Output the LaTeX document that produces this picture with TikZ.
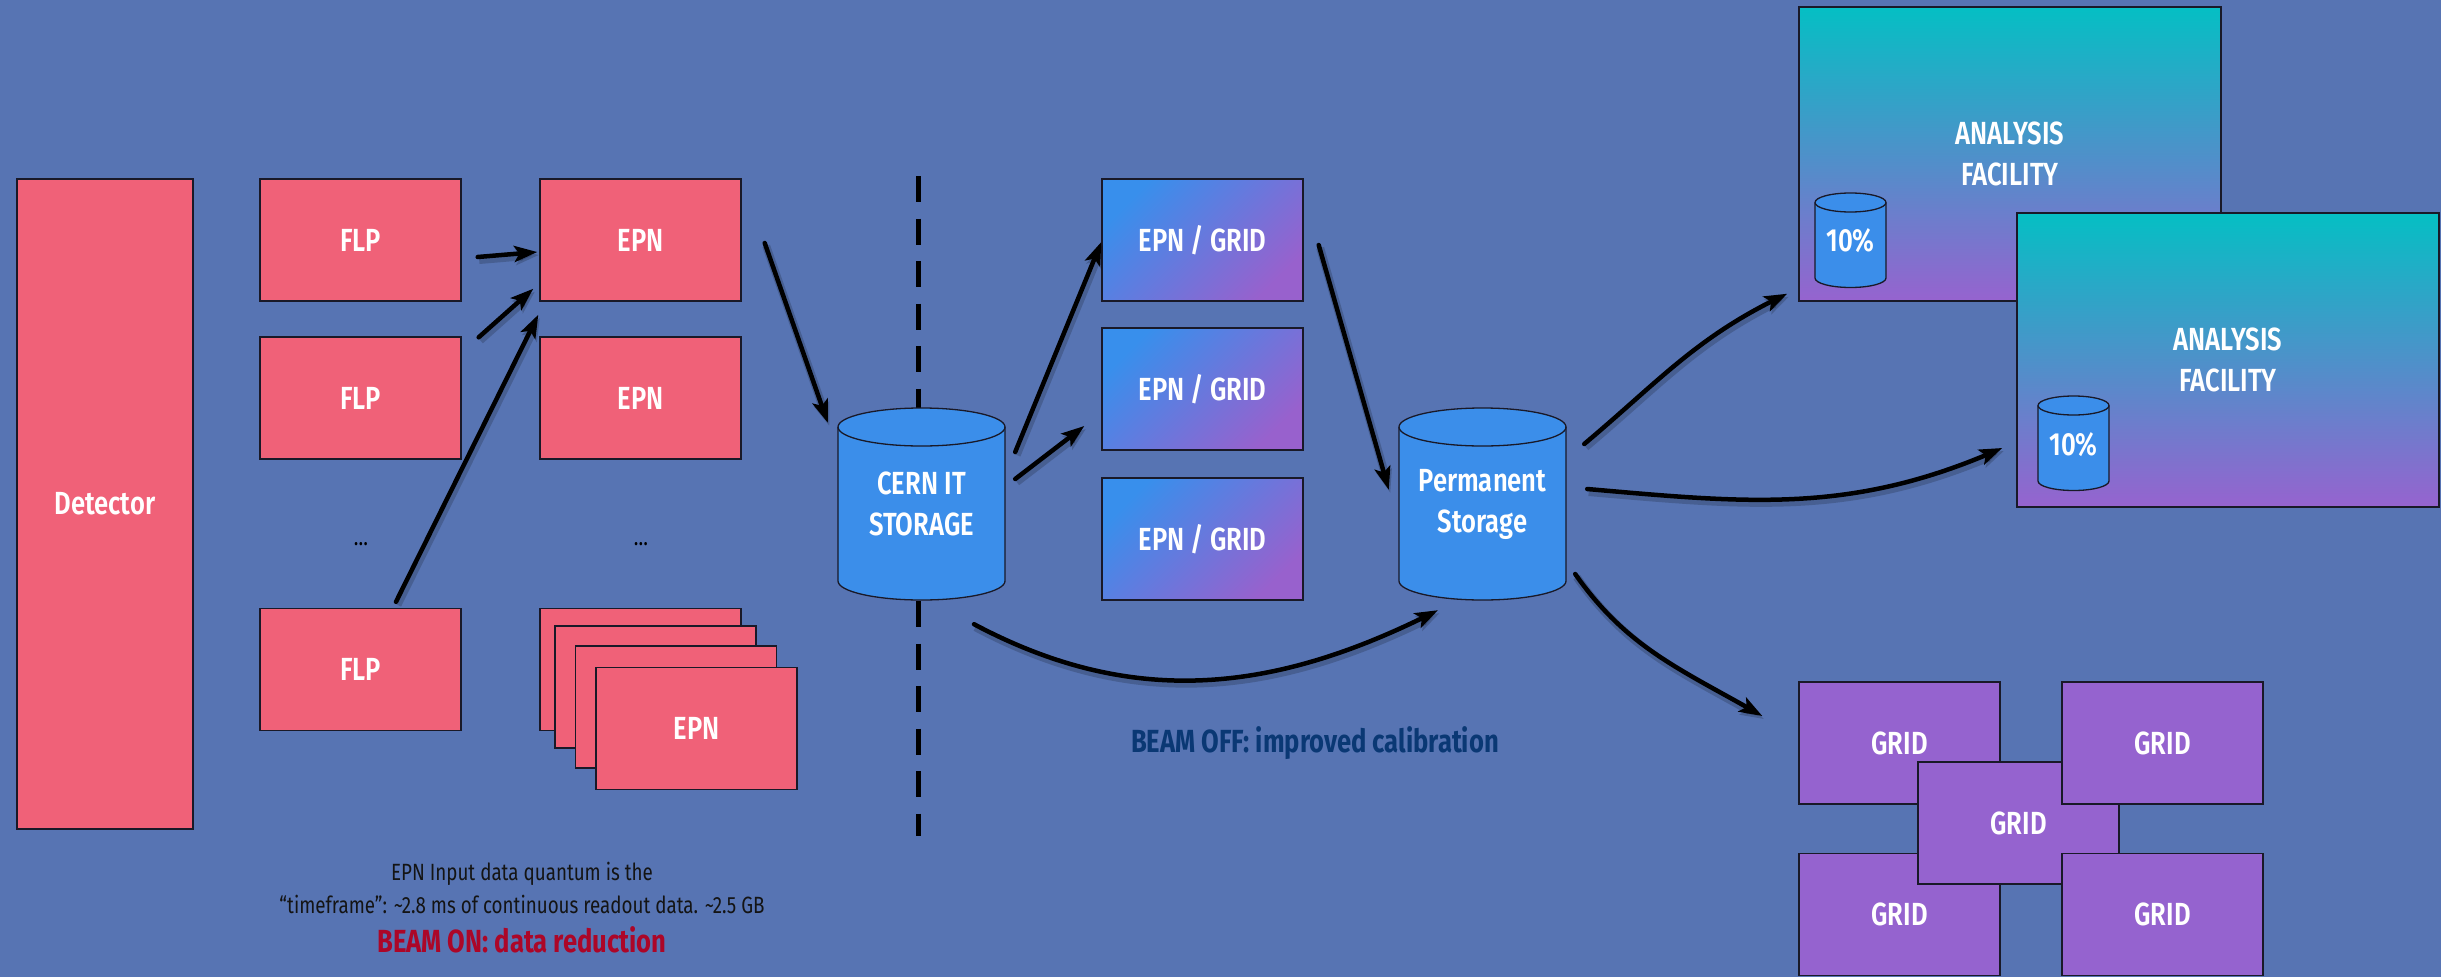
\documentclass[tikz,border=0pt]{standalone}
\usepackage{fontspec}
\setmainfont[FakeStretch=0.8]{Fira Sans}
\newfontfamily\heavyfont[FakeStretch=0.8]{Fira Sans}
\IfFontExistsTF{Fira Sans SemiBold}
  {\newfontfamily\lblfont[FakeStretch=0.8]{Fira Sans SemiBold}}
  {\newcommand\lblfont{\heavyfont\bfseries}}
\usetikzlibrary{arrows.meta,calc,bending}

\definecolor{bg}{RGB}{87,116,179}
\definecolor{pinkfill}{RGB}{240,97,120}
\definecolor{cylblue}{RGB}{59,142,234}
\definecolor{egblue}{RGB}{56,143,236}
\definecolor{egpurple}{RGB}{152,97,205}
\definecolor{afteal}{RGB}{5,191,196}
\definecolor{afpurple}{RGB}{150,99,207}
\definecolor{gridpurple}{RGB}{149,99,207}
\definecolor{beamon}{RGB}{172,6,40}
\definecolor{beamoff}{RGB}{10,56,116}
\definecolor{edge}{RGB}{25,25,40}

% storage drum: centre x, top-ellipse y, bottom-ellipse y, x radius, y radius
\newcommand\drumshape[5]{%
  \filldraw[draw=edge,line width=1.3pt,fill=cylblue]
    (#1-#4,#2) -- (#1-#4,#3)
    arc[start angle=180,end angle=360,x radius=#4pt,y radius=#5pt]
    -- (#1+#4,#2)
    arc[start angle=0,end angle=180,x radius=#4pt,y radius=#5pt] -- cycle;
  \draw[draw=edge,line width=1.3pt] (#1-#4,#2)
    arc[start angle=180,end angle=360,x radius=#4pt,y radius=#5pt];
}

\begin{document}
\begin{tikzpicture}[x=1pt,y=-1pt,
  lbl/.style={text=white,font=\lblfont\fontsize{32}{41}\selectfont,align=center},
  box/.style={lbl,draw=edge,line width=1.4pt,minimum width=201pt,minimum height=122pt,inner sep=0pt},
  redbox/.style={box,fill=pinkfill},
  egbox/.style={box,top color=egblue,bottom color=egpurple,shading angle=45},
  gridbox/.style={box,fill=gridpurple},
  afbox/.style={lbl,draw=edge,line width=1.4pt,top color=afteal,bottom color=afpurple,
                minimum width=422pt,minimum height=294pt,inner sep=0pt},
  drumlabel/.style={lbl,inner sep=0pt},
  flow/.style={draw=black,line width=4.5pt,line cap=round,
               -{Stealth[length=23pt,width=16pt,inset=5pt]},
               preaction={draw=black,opacity=0.18,line width=8pt,
                          transform canvas={xshift=1.5pt,yshift=-3pt}}},
  cutline/.style={draw=black,line width=5pt,dash pattern=on 26pt off 16.5pt},
  dots/.style={text=black,font=\fontsize{24}{24}\selectfont},
  note/.style={text=black!92,font=\fontsize{23.5}{33}\selectfont,align=center},
  banner/.style={font=\heavyfont\bfseries\fontsize{32}{34}\selectfont}
]
\useasboundingbox (0,0) rectangle (2441,977);
\fill[bg] (0,0) rectangle (2441,977);

% boundary between online and offline processing
\coordinate (cut top) at (918,176);
\coordinate (cut bottom) at (918,836);
\draw[cutline] (cut top) -- (cut bottom);

% detector and first level processors
\node[redbox,minimum width=176pt,minimum height=650pt] (det) at (105,504) {Detector};
\node[redbox] (flp1) at (360.5,240) {FLP};
\node[redbox] (flp2) at (360.5,398) {FLP};
\node[dots] (flpdots) at (361,544) {\dots};
\node[redbox] (flp3) at (360.5,669.5) {FLP};

% event processing nodes
\node[redbox] (epn1) at (640.5,240) {EPN};
\node[redbox] (epn2) at (640.5,398) {EPN};
\node[dots] (epndots) at (641,544) {\dots};
\node[redbox] (epnA) at (640.5,669.5) {};
\node[redbox] (epnB) at (655.5,687) {};
\node[redbox] (epnC) at (676,707) {};
\node[redbox] (epnD) at (696.5,728.5) {EPN};

% CERN IT storage
\drumshape{921.5}{427}{581}{83.5}{19}
\node[drumlabel,minimum width=167pt,minimum height=190pt] (cern) at (921.5,504) {CERN IT\\STORAGE};

% reprocessing
\node[egbox] (eg1) at (1202.5,240) {EPN / GRID};
\node[egbox] (eg2) at (1202.5,389) {EPN / GRID};
\node[egbox] (eg3) at (1202.5,539) {EPN / GRID};

% permanent storage
\drumshape{1482.5}{427}{581}{83.5}{19}
\node[drumlabel,minimum width=167pt,minimum height=190pt] (perm) at (1482.5,504) {Permanent\\Storage};

% analysis facilities
\node[afbox] (af1) at (2010,154) {ANALYSIS\\FACILITY};
\drumshape{1850.5}{202.5}{278}{35.5}{9.5}
\node[drumlabel,minimum width=71pt,minimum height=94pt] (af1disk) at (1850.5,241) {10\%};
\node[afbox] (af2) at (2228,360) {ANALYSIS\\FACILITY};
\drumshape{2073.5}{405.5}{481}{35.5}{9.5}
\node[drumlabel,minimum width=71pt,minimum height=94pt] (af2disk) at (2073.5,445) {10\%};

% grid sites
\node[gridbox] (gridtl) at (1899.5,743) {GRID};
\node[gridbox] (gridbl) at (1899.5,914.5) {GRID};
\node[gridbox] (gridc)  at (2018.5,823) {GRID};
\node[gridbox] (gridtr) at (2162.5,743) {GRID};
\node[gridbox] (gridbr) at (2162.5,914.5) {GRID};

% data flow
\draw[flow] ($(flp1.east)+(16,17)$) -- ($(epn1.west)+(-2,12)$);
\draw[flow] ($(flp2.north east)+(17,1)$) -- ($(epn1.south west)+(-6,-13)$);
\draw[flow] ($(flp3.north)+(35.5,-6)$) -- ($(epn1.south west)+(-1,13)$);
\draw[flow] ($(epn1.east)+(23,3)$) -- ($(cern.north west)+(-10,14)$);
\draw[flow] ($(cern.east)+(10,-52)$) -- ($(eg1.west)+(0,2)$);
\draw[flow] ($(cern.east)+(10,-25)$) -- ($(eg2.west)+(-17,37)$);
\draw[flow] ($(eg1.east)+(15,5)$) -- ($(perm.north west)+(-10,81)$);
\draw[flow] ($(cern.south)+(52.5,25)$) to[out=-28,in=207] ($(perm.south)+(-44.5,11)$);
\draw[flow] ($(perm.east)+(18,-60)$) to[out=40,in=205] ($(af1.south west)+(-11,-8)$);
\draw[flow] ($(perm.east)+(21,-15)$) to[out=-5,in=204] ($(af2.west)+(-14,88)$);
\draw[flow] ($(perm.east)+(9,70)$) to[out=-55,in=150] ($(gridtl.west)+(-36,-27)$);

% annotations
\node[note] (quantum) at (522,887.5) {EPN Input data quantum is the\\%
  “timeframe”: \textasciitilde2.8 ms of continuous readout data. \textasciitilde2.5 GB};
\node[banner,text=beamon] (beamonlbl) at (522,940) {BEAM ON: data reduction};
\node[banner,text=beamoff] (beamofflbl) at (1315,743) {BEAM OFF: improved calibration};
\end{tikzpicture}
\end{document}
